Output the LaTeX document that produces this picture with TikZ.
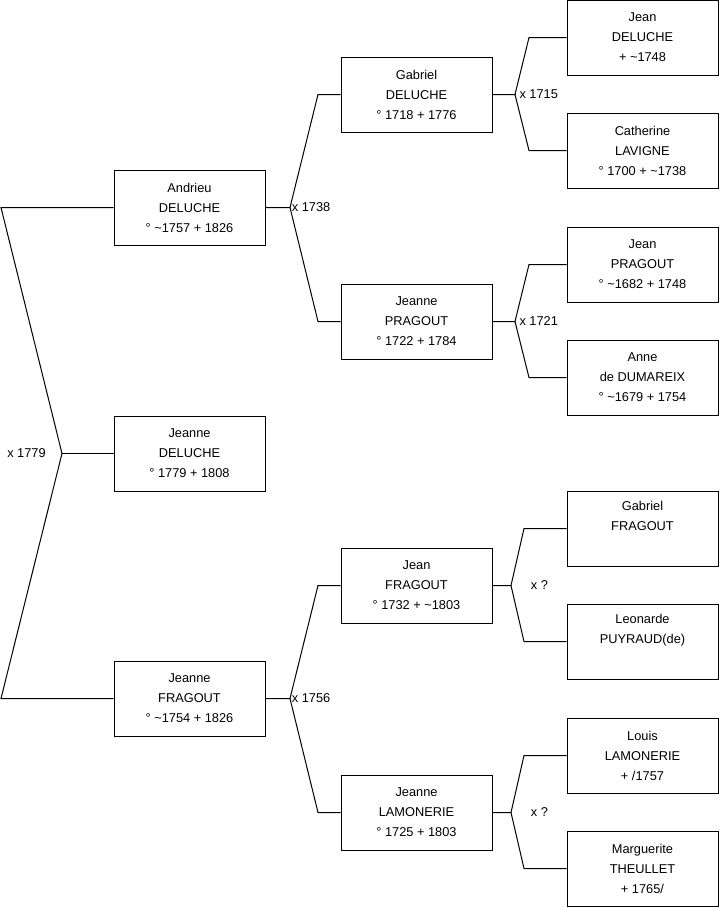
\documentclass[tikz,border=0pt]{standalone}
\usepackage{fontspec}
\setmainfont{Liberation Sans}
\tikzset{
	person/.style={draw, minimum width=113.25pt, minimum height=56.25pt, inner sep=0pt,
		align=center, font=\fontsize{9.6}{15}\selectfont},
	union/.style={inner sep=0pt, font=\fontsize{9.6}{11}\selectfont}
}

\begin{document}
\begin{tikzpicture}[x=0.75pt, y=-0.75pt, line width=0.75pt]
	\useasboundingbox (0,0) rectangle (719,908);
	% generation 1 and 2
	\node[person] (andrieu) at (189.5,207.5) {Andrieu\\DELUCHE\\° \textasciitilde1757 + 1826};
	\node[person] (jeanne) at (189.5,453.5) {Jeanne\\DELUCHE\\° 1779 + 1808};
	\node[person] (fragout) at (189.5,698.5) {Jeanne\\FRAGOUT\\° \textasciitilde1754 + 1826};
	% generation 3
	\node[person] (gabriel) at (416.5,94.5) {Gabriel\\DELUCHE\\° 1718 + 1776};
	\node[person] (pragout) at (416.5,321.5) {Jeanne\\PRAGOUT\\° 1722 + 1784};
	\node[person] (jfragout) at (416.5,585.5) {Jean\\FRAGOUT\\° 1732 + \textasciitilde1803};
	\node[person] (lamonerie) at (416.5,812.5) {Jeanne\\LAMONERIE\\° 1725 + 1803};
	% generation 4
	\node[person] (jdeluche) at (642.5,37.5) {Jean\\DELUCHE\\+ \textasciitilde1748};
	\node[person] (lavigne) at (642.5,150.5) {Catherine\\LAVIGNE\\° 1700 + \textasciitilde1738};
	\node[person] (jpragout) at (642.5,264.5) {Jean\\PRAGOUT\\° \textasciitilde1682 + 1748};
	\node[person] (dumareix) at (642.5,377.5) {Anne\\de DUMAREIX\\° \textasciitilde1679 + 1754};
	\node[person] (gfragout) at (642.5,528.5) {Gabriel\\FRAGOUT\\\strut};
	\node[person] (puyraud) at (642.5,641.5) {Leonarde\\PUYRAUD(de)\\\strut};
	\node[person] (llamonerie) at (642.5,755.5) {Louis\\LAMONERIE\\+ /1757};
	\node[person] (theullet) at (642.5,868.5) {Marguerite\\THEULLET\\+ 1765/};

	% links
	\coordinate (l1) at (1,207.5);
	\coordinate (l2) at (62,453.5);
	\coordinate (l3) at (1,698.5);
	\draw (andrieu.west) -- (l1) -- (l2) -- (l3) -- (fragout.west);
	\draw (l2) -- (jeanne.west);
	\node[union] (m0) at (26.5,453.5) {x 1779};

	\coordinate (a0) at (290,207.5);
	\coordinate (a1) at (318,94.5);
	\coordinate (a2) at (318,321.5);
	\draw (andrieu.east) -- (a0) -- (a1) -- (gabriel.west);
	\draw (a0) -- (a2) -- (pragout.west);
	\node[union, right] (m1) at ([xshift=1pt]a0) {x 1738};

	\coordinate (f0) at (290,698.5);
	\coordinate (f1) at (318,585.5);
	\coordinate (f2) at (318,812.5);
	\draw (fragout.east) -- (f0) -- (f1) -- (jfragout.west);
	\draw (f0) -- (f2) -- (lamonerie.west);
	\node[union, right] (m2) at ([xshift=1pt]f0) {x 1756};

	\coordinate (g0) at (515,94.5);
	\coordinate (g1) at (529,37.5);
	\coordinate (g2) at (529,150.5);
	\draw (gabriel.east) -- (g0) -- (g1) -- (jdeluche.west);
	\draw (g0) -- (g2) -- (lavigne.west);
	\node[union, right] (m3) at ([xshift=3pt]g0) {x 1715};

	\coordinate (p0) at (515,321.5);
	\coordinate (p1) at (529,264.5);
	\coordinate (p2) at (529,377.5);
	\draw (pragout.east) -- (p0) -- (p1) -- (jpragout.west);
	\draw (p0) -- (p2) -- (dumareix.west);
	\node[union, right] (m4) at ([xshift=3pt]p0) {x 1721};

	\coordinate (j0) at (511,585.5);
	\coordinate (j1) at (524,528.5);
	\coordinate (j2) at (524,641.5);
	\draw (jfragout.east) -- (j0) -- (j1) -- (gfragout.west);
	\draw (j0) -- (j2) -- (puyraud.west);
	\node[union] (m5) at (539.5,585.5) {x ?};

	\coordinate (n0) at (511,812.5);
	\coordinate (n1) at (524,755.5);
	\coordinate (n2) at (524,868.5);
	\draw (lamonerie.east) -- (n0) -- (n1) -- (llamonerie.west);
	\draw (n0) -- (n2) -- (theullet.west);
	\node[union] (m6) at (539.5,812.5) {x ?};
\end{tikzpicture}
\end{document}
